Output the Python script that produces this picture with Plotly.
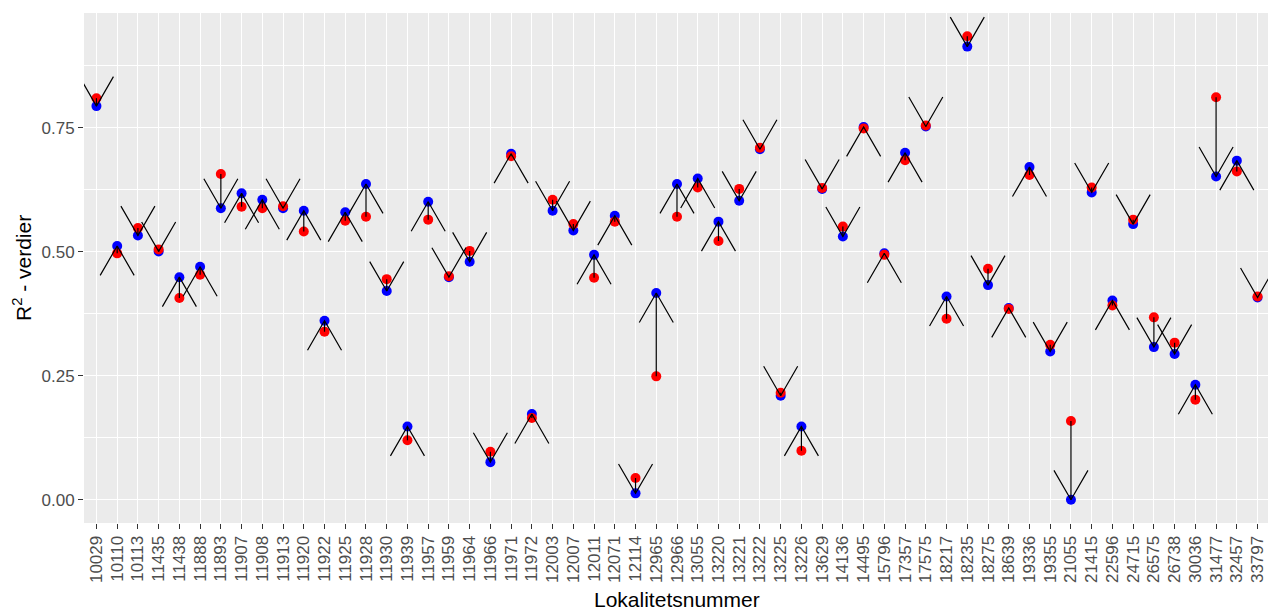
import math
import plotly.graph_objects as go

# ---- data ----
lokaliteter = ["10029", "10110", "10113", "11435", "11438", "11888", "11893", "11907", "11908", "11913",
               "11920", "11922", "11925", "11928", "11930", "11939", "11957", "11959", "11964", "11966",
               "11971", "11972", "12003", "12007", "12011", "12071", "12114", "12965", "12966", "13055",
               "13220", "13221", "13222", "13225", "13226", "13629", "14136", "14495", "15796", "17357",
               "17575", "18217", "18235", "18275", "18639", "19336", "19355", "21055", "21415", "22596",
               "24715", "26575", "26738", "30036", "31477", "32457", "33797"]

r2_blue = [0.794, 0.512, 0.533, 0.501, 0.449, 0.470, 0.588, 0.618, 0.605, 0.588,
           0.583, 0.361, 0.580, 0.637, 0.421, 0.148, 0.601, 0.449, 0.480, 0.076,
           0.698, 0.173, 0.583, 0.543, 0.494, 0.573, 0.013, 0.417, 0.637, 0.648,
           0.561, 0.603, 0.707, 0.210, 0.148, 0.627, 0.531, 0.752, 0.497, 0.700,
           0.753, 0.410, 0.914, 0.433, 0.387, 0.671, 0.299, 0.000, 0.620, 0.402,
           0.556, 0.308, 0.294, 0.232, 0.652, 0.684, 0.408]

r2_red = [0.810, 0.497, 0.548, 0.505, 0.407, 0.454, 0.657, 0.591, 0.588, 0.592,
          0.541, 0.339, 0.563, 0.571, 0.445, 0.120, 0.565, 0.451, 0.502, 0.097,
          0.693, 0.165, 0.605, 0.556, 0.448, 0.561, 0.044, 0.249, 0.571, 0.630,
          0.522, 0.627, 0.710, 0.216, 0.099, 0.629, 0.551, 0.749, 0.494, 0.685,
          0.755, 0.365, 0.935, 0.466, 0.385, 0.655, 0.3125, 0.159, 0.630, 0.392,
          0.565, 0.368, 0.317, 0.202, 0.812, 0.662, 0.410]

y_ticks = [0.0, 0.25, 0.5, 0.75]
y_ticktext = ["0.00", "0.25", "0.50", "0.75"]

# ---- layout geometry (page body has an 8px margin) ----
OFF = 8
W, H = 1276 - OFF, 610 - OFF
ML, MR, MT, MB = 84 - OFF, 6, 13 - OFF, 87
plot_w = W - ML - MR
plot_h = H - MT - MB

n = len(lokaliteter)
xpos = list(range(n))
x_range = [-0.6, n - 1 + 0.6]
all_vals = r2_blue + r2_red
lo, hi = min(all_vals), max(all_vals)
span = hi - lo
y_range = [lo - 0.05 * span, hi + 0.05 * span]

px_per_x = plot_w / (x_range[1] - x_range[0])
px_per_y = plot_h / (y_range[1] - y_range[0])

# arrow head (open, ggplot-like): length in px and half-angle
HEAD_LEN = 34
HEAD_ANG = math.radians(30)
hdx = HEAD_LEN * math.sin(HEAD_ANG) / px_per_x
hdy = HEAD_LEN * math.cos(HEAD_ANG) / px_per_y

ax, ay = [], []
for x, b, r in zip(xpos, r2_blue, r2_red):
    s = 1 if b >= r else -1  # arrow from red to blue
    ax += [x, x, None]
    ay += [r, b, None]
    ax += [x - hdx, x, x + hdx, None]
    ay += [b - s * hdy, b, b - s * hdy, None]

fig = go.Figure()
fig.add_trace(go.Scatter(x=xpos, y=r2_blue, mode="markers",
                         marker=dict(color="#0000FF", size=10), showlegend=False,
                         hovertext=lokaliteter))
fig.add_trace(go.Scatter(x=xpos, y=r2_red, mode="markers",
                         marker=dict(color="#FF0000", size=10), showlegend=False,
                         hovertext=lokaliteter))
fig.add_trace(go.Scatter(x=ax, y=ay, mode="lines",
                         line=dict(color="black", width=1.2), showlegend=False,
                         hoverinfo="skip"))

tickfont = dict(family="Liberation Sans, Arial, sans-serif", size=17, color="#4D4D4D")

fig.update_layout(
    width=W, height=H, autosize=False,
    margin=dict(l=ML, r=MR, t=MT, b=MB, pad=0, autoexpand=False),
    paper_bgcolor="white", plot_bgcolor="#EBEBEB",
    font=dict(family="Liberation Sans, Arial, sans-serif", color="black"),
    xaxis=dict(range=x_range, tickmode="array", tickvals=xpos, ticktext=lokaliteter,
               tickangle=-90, tickfont=tickfont, ticks="outside", ticklen=5,
               tickcolor="#333333", tickwidth=1, showgrid=True, gridcolor="white",
               gridwidth=1.3, zeroline=False, showline=False, fixedrange=True,
               automargin=False),
    yaxis=dict(range=y_range, tickmode="array", tickvals=y_ticks, ticktext=y_ticktext,
               tickfont=tickfont, ticks="outside", ticklen=5, tickcolor="#333333",
               tickwidth=1, showgrid=True, gridcolor="white", gridwidth=1.3,
               zeroline=False, showline=False, automargin=False,
               minor=dict(tick0=0.125, dtick=0.25, showgrid=True, gridcolor="white",
                          gridwidth=0.7, ticks=""),
               fixedrange=True),
    annotations=[
        dict(text="Lokalitetsnummer", xref="paper", yref="paper",
             x=(677 - OFF - ML) / plot_w, y=(MT + plot_h - (599 - OFF)) / plot_h,
             xanchor="center", yanchor="middle", showarrow=False,
             font=dict(size=21, color="black", family="Liberation Sans, Arial, sans-serif")),
        dict(text="R<sup>2</sup> - verdier", xref="paper", yref="paper",
             x=(22 - OFF - ML) / plot_w, y=(MT + plot_h - (268 - OFF)) / plot_h,
             xanchor="center", yanchor="middle", textangle=-90, showarrow=False,
             font=dict(size=21, color="black", family="Liberation Sans, Arial, sans-serif")),
    ],
)

fig.write_html("out.html")
